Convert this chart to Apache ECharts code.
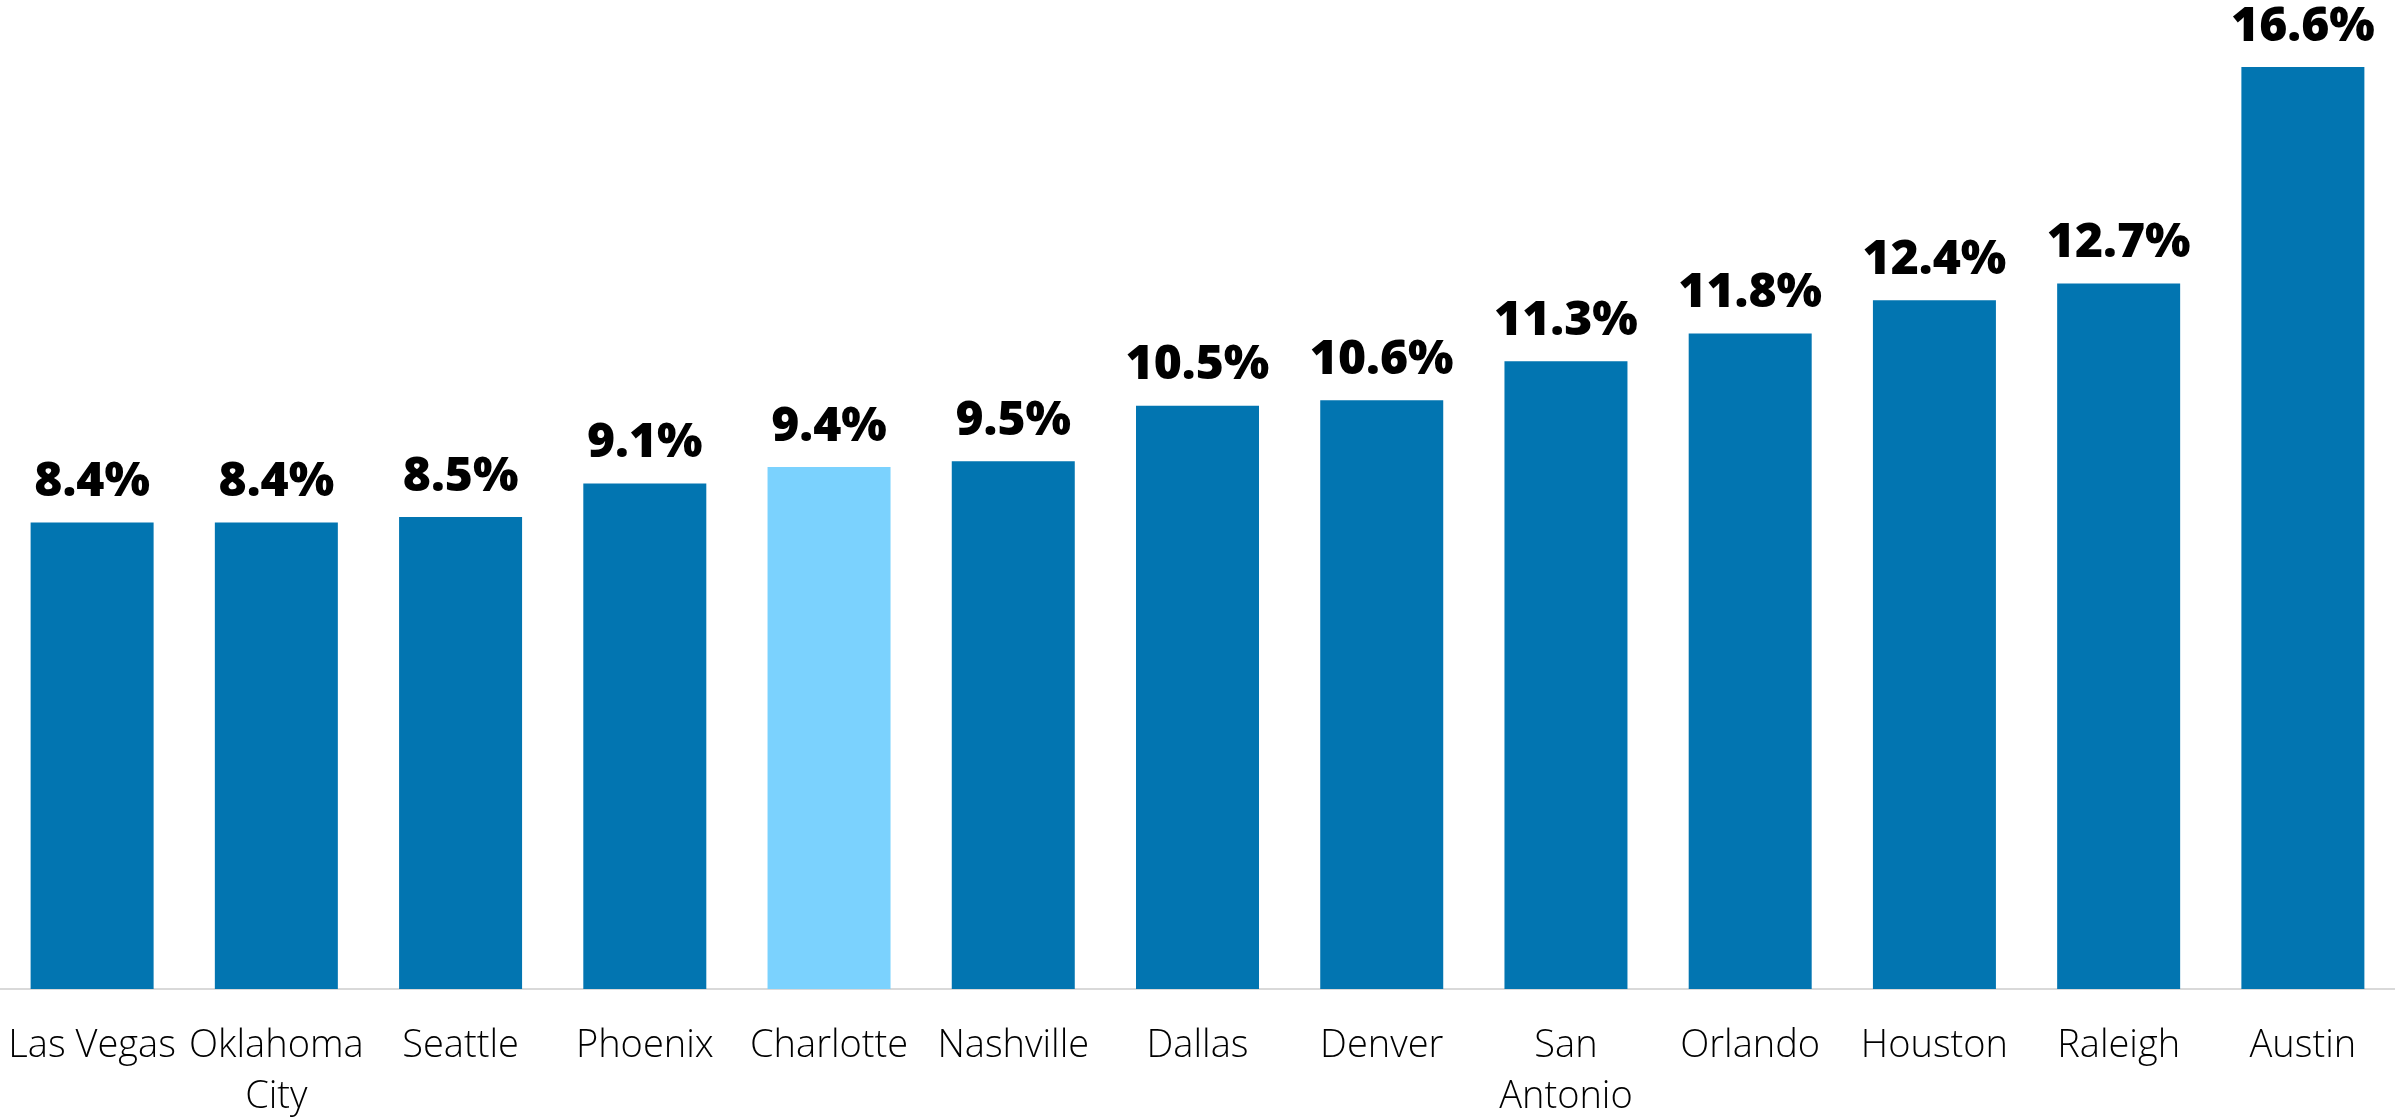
<!DOCTYPE html>
<html>
<head>
<meta charset="utf-8">
<script src="https://cdn.jsdelivr.net/npm/echarts@6/dist/echarts.min.js"></script>
<style>
  html, body { margin: 0; padding: 0; background: #fff; }
  #main { width: 2395px; height: 1117px; }
</style>
</head>
<body>
<div id="main"></div>
<script>
var myChart = echarts.init(document.getElementById('main'));

var cities = ['Las Vegas', 'Oklahoma\nCity', 'Seattle', 'Phoenix', 'Charlotte', 'Nashville',
  'Dallas', 'Denver', 'San\nAntonio', 'Orlando', 'Houston', 'Raleigh', 'Austin'];
var growth = [8.4, 8.4, 8.5, 9.1, 9.4, 9.5, 10.5, 10.6, 11.3, 11.8, 12.4, 12.7, 16.6];
var highlight = 'Charlotte';

var option = {
  animation: false,
  title: {
    // only the bottom edge of the title is left on the canvas
    text: '5-year population growth',
    left: 0,
    top: -46,
    textStyle: {
      fontFamily: 'Open Sans',
      fontWeight: 300,
      fontSize: 36,
      color: '#000'
    }
  },
  grid: {
    left: 0,
    right: 0,
    top: 67,
    bottom: 128,
    containLabel: false,
    outerBoundsMode: 'none'
  },
  xAxis: {
    type: 'category',
    data: cities,
    axisLine: { lineStyle: { color: '#d9d9d9', width: 2 } },
    axisTick: { show: false },
    axisLabel: {
      interval: 0,
      margin: 32,
      fontFamily: 'Open Sans',
      fontWeight: 300,
      fontSize: 38,
      lineHeight: 51,
      color: '#000'
    }
  },
  yAxis: {
    type: 'value',
    min: 0,
    max: 16.6,
    show: false,
    splitLine: { show: false }
  },
  series: [
    {
      type: 'bar',
      barWidth: 123,
      data: growth.map(function (v, i) {
        return {
          value: v,
          itemStyle: { color: cities[i] === highlight ? '#7bd2fe' : '#0275b1' }
        };
      }),
      label: {
        show: true,
        position: 'top',
        distance: 16,
        formatter: function (p) { return p.value.toFixed(1) + '%'; },
        fontFamily: 'Open Sans',
        fontWeight: 800,
        fontSize: 48,
        color: '#000'
      }
    }
  ]
};

option && myChart.setOption(option);
</script>
</body>
</html>
